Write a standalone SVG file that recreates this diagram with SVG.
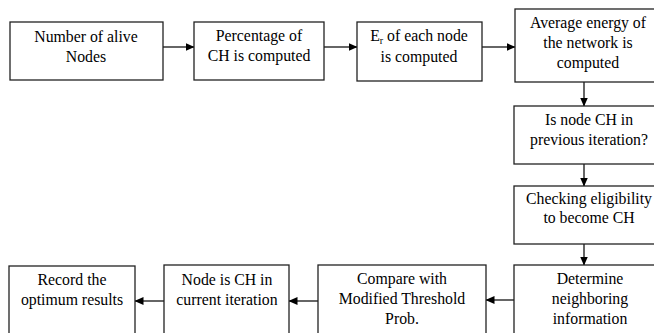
<svg xmlns="http://www.w3.org/2000/svg" width="654" height="333" viewBox="0 0 654 333">
<defs>
<style>
.b{fill:#fff;stroke:#222;stroke-width:1.3}
.t{font-family:"Liberation Serif","Times New Roman",serif;font-size:15.8px;fill:#000;text-anchor:middle}
.c{stroke:#333;stroke-width:1.5;fill:none;marker-end:url(#ah)}
</style>
<marker id="ah" markerWidth="9" markerHeight="8" refX="8.5" refY="4" orient="auto" markerUnits="userSpaceOnUse">
<path d="M0,0 L9,4 L0,8 Z" fill="#000"/>
</marker>
</defs>
<rect width="654" height="333" fill="#fff"/>
<g id="connectors">
<line class="c" x1="163" y1="47" x2="194" y2="47"/>
<line class="c" x1="324" y1="47" x2="357" y2="47"/>
<line class="c" x1="482" y1="47" x2="515" y2="47"/>
<line class="c" x1="584" y1="82" x2="584" y2="106"/>
<line class="c" x1="584" y1="164" x2="584" y2="186"/>
<line class="c" x1="584" y1="244" x2="584" y2="265"/>
<line class="c" x1="514" y1="300" x2="486" y2="300"/>
<line class="c" x1="318" y1="301" x2="289" y2="301"/>
<line class="c" x1="164" y1="301" x2="135" y2="301"/>
</g>
<g id="n1"><rect class="b" x="10" y="22" width="153" height="58"/>
<text class="t" x="86" y="42">Number of alive</text><text class="t" x="86" y="62">Nodes</text></g>
<g id="n2"><rect class="b" x="194" y="22" width="130" height="58"/>
<text class="t" x="259" y="41">Percentage of</text><text class="t" x="259" y="61">CH is computed</text></g>
<g id="n3"><rect class="b" x="357" y="22" width="125" height="59"/>
<text class="t" x="419" y="41">E<tspan font-size="10" dy="3">r</tspan><tspan dy="-3"> of each node</tspan></text><text class="t" x="419" y="62">is computed</text></g>
<g id="n4"><rect class="b" x="515" y="9" width="145" height="73"/>
<text class="t" x="588" y="28">Average energy of</text><text class="t" x="588" y="48">the network is</text><text class="t" x="588" y="68">computed</text></g>
<g id="n5"><rect class="b" x="514" y="106" width="146" height="58"/>
<text class="t" x="589" y="125">Is node CH in</text><text class="t" x="589" y="145">previous iteration?</text></g>
<g id="n6"><rect class="b" x="514" y="186" width="146" height="58"/>
<text class="t" x="589" y="204">Checking eligibility</text><text class="t" x="589" y="223">to become CH</text></g>
<g id="n7"><rect class="b" x="514" y="265" width="146" height="75"/>
<text class="t" x="590" y="284">Determine</text><text class="t" x="590" y="304">neighboring</text><text class="t" x="590" y="324">information</text></g>
<g id="n8"><rect class="b" x="318" y="265" width="168" height="75"/>
<text class="t" x="402" y="284">Compare with</text><text class="t" x="402" y="304">Modified Threshold</text><text class="t" x="402" y="324">Prob.</text></g>
<g id="n9"><rect class="b" x="164" y="265" width="125" height="75"/>
<text class="t" x="227" y="285">Node is CH in</text><text class="t" x="227" y="305">current iteration</text></g>
<g id="n10"><rect class="b" x="9" y="266" width="126" height="75"/>
<text class="t" x="72" y="285">Record the</text><text class="t" x="72" y="305">optimum results</text></g>
</svg>
